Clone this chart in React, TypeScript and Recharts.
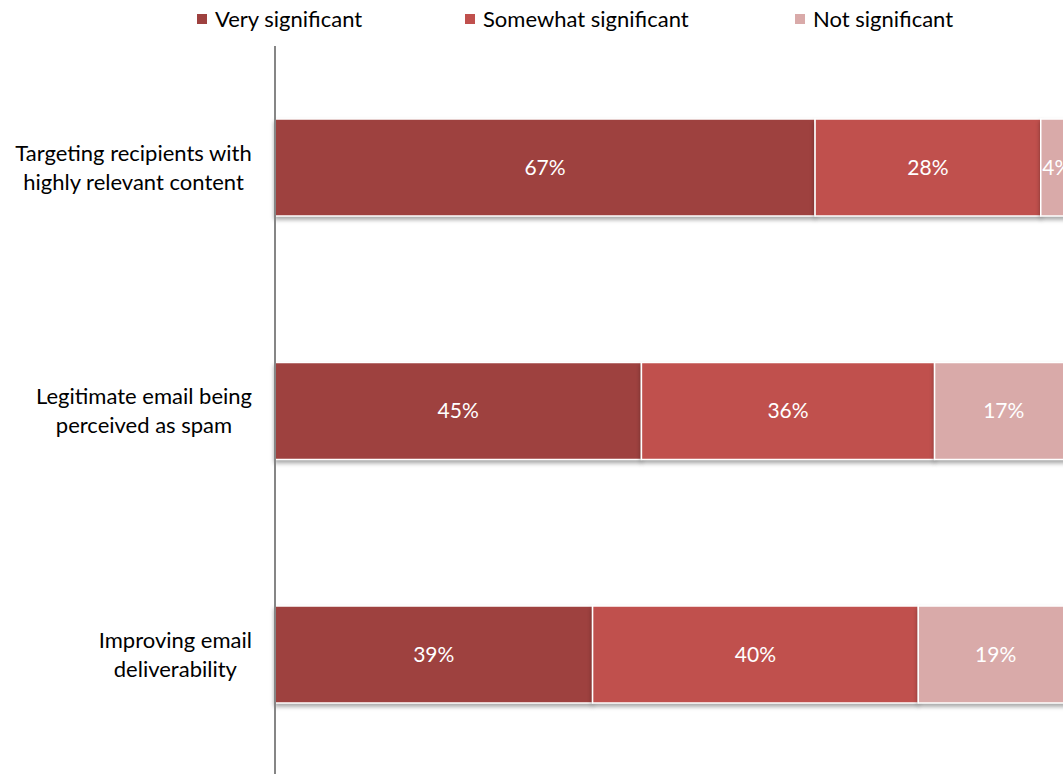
import React from 'react';
import { BarChart, Bar, XAxis, YAxis, Legend, LabelList } from 'recharts';

const categories = [
  'Targeting recipients with\nhighly relevant content',
  'Legitimate email being\nperceived as spam',
  'Improving email\ndeliverability',
];
const verySignificant = [67, 45, 39];
const somewhatSignificant = [28, 36, 40];
const notSignificant = [4, 17, 19];
const seriesNames = ['Very significant', 'Somewhat significant', 'Not significant'];

const data = categories.map((c, i) => ({
  category: c,
  very: verySignificant[i],
  somewhat: somewhatSignificant[i],
  not: notSignificant[i],
}));

const FONT = 'Lato, "Open Sans", sans-serif';
const COLORS = ['#9E413F', '#C0504D', '#D9AAA9'];
const TEXT_SIZE = 22;
const LABEL_SIZE = 21;

let ctx: CanvasRenderingContext2D | null = null;
function measure(text: string, size: number): number {
  if (!ctx) ctx = document.createElement('canvas').getContext('2d');
  if (!ctx) return text.length * size * 0.5;
  ctx.font = `${size}px Lato`;
  return ctx.measureText(text).width;
}

const CategoryTick = (props: any) => {
  const { y, payload } = props;
  const lines = String(payload.value).split('\n');
  const w = Math.max(...lines.map((l) => measure(l, TEXT_SIZE)));
  const right = 252;
  const cx = right - w / 2;
  const lh = 29;
  const startY = y - ((lines.length - 1) * lh) / 2;
  return (
    <text textAnchor="middle" fontFamily={FONT} fontSize={TEXT_SIZE} fill="#000">
      {lines.map((l, i) => (
        <tspan key={i} x={cx} y={startY + i * lh} dy="0.35em">
          {l}
        </tspan>
      ))}
    </text>
  );
};

const legendX = [197, 465, 795];
const LegendContent = (props: any) => {
  const payload = props.payload || [];
  return (
    <div style={{ position: 'relative', height: 46, width: 1100 }}>
      {payload.map((p: any, i: number) => {
        const idx = seriesNames.indexOf(p.value);
        return (
          <div
            key={i}
            style={{
              position: 'absolute',
              left: legendX[idx >= 0 ? idx : i],
              top: 8,
              display: 'flex',
              alignItems: 'center',
              fontFamily: FONT,
              fontSize: TEXT_SIZE,
              color: '#000',
              lineHeight: '22px',
              whiteSpace: 'nowrap',
            }}
          >
            <span style={{ width: 10, height: 10, background: p.color, marginRight: 8, display: 'inline-block' }} />
            <span>{p.value}</span>
          </div>
        );
      })}
    </div>
  );
};

const ShadowBar = (props: any) => {
  const { x, y, width, height, fill } = props;
  if (!width || !height) return null;
  return (
    <rect
      x={x}
      y={y}
      width={width}
      height={height}
      fill={fill}
      stroke="#fff"
      strokeWidth={1.5}
      style={{ filter: 'drop-shadow(0px 3px 2px rgba(0,0,0,0.35))' }}
    />
  );
};

const labelStyle = { fill: '#fff', fontFamily: FONT, fontSize: LABEL_SIZE };
const fmt = (v: any) => `${v}%`;

export default function App() {
  return (
    <div style={{ position: 'absolute', left: 0, top: 0, width: 1063, height: 774, overflow: 'hidden', background: '#fff' }}>
      <BarChart
        width={1100}
        height={790}
        data={data}
        layout="vertical"
        stackOffset="expand"
        margin={{ top: 0, right: 27, bottom: 13.5, left: 0 }}
      >
        <Legend verticalAlign="top" content={<LegendContent />} wrapperStyle={{ left: 0, top: 0, width: 1100, height: 46 }} />
        <XAxis type="number" domain={[0, 1]} hide />
        <YAxis
          type="category"
          dataKey="category"
          width={275}
          axisLine={{ stroke: '#868686', strokeWidth: 2 }}
          tickLine={false}
          tick={<CategoryTick />}
          interval={0}
        />
        <Bar dataKey="very" name={seriesNames[0]} stackId="a" fill={COLORS[0]} barSize={97} shape={<ShadowBar />} isAnimationActive={false}>
          <LabelList dataKey="very" position="center" formatter={fmt} style={labelStyle} />
        </Bar>
        <Bar dataKey="somewhat" name={seriesNames[1]} stackId="a" fill={COLORS[1]} barSize={97} shape={<ShadowBar />} isAnimationActive={false}>
          <LabelList dataKey="somewhat" position="center" formatter={fmt} style={labelStyle} />
        </Bar>
        <Bar dataKey="not" name={seriesNames[2]} stackId="a" fill={COLORS[2]} barSize={97} shape={<ShadowBar />} isAnimationActive={false}>
          <LabelList dataKey="not" position="center" formatter={fmt} style={labelStyle} />
        </Bar>
      </BarChart>
    </div>
  );
}
